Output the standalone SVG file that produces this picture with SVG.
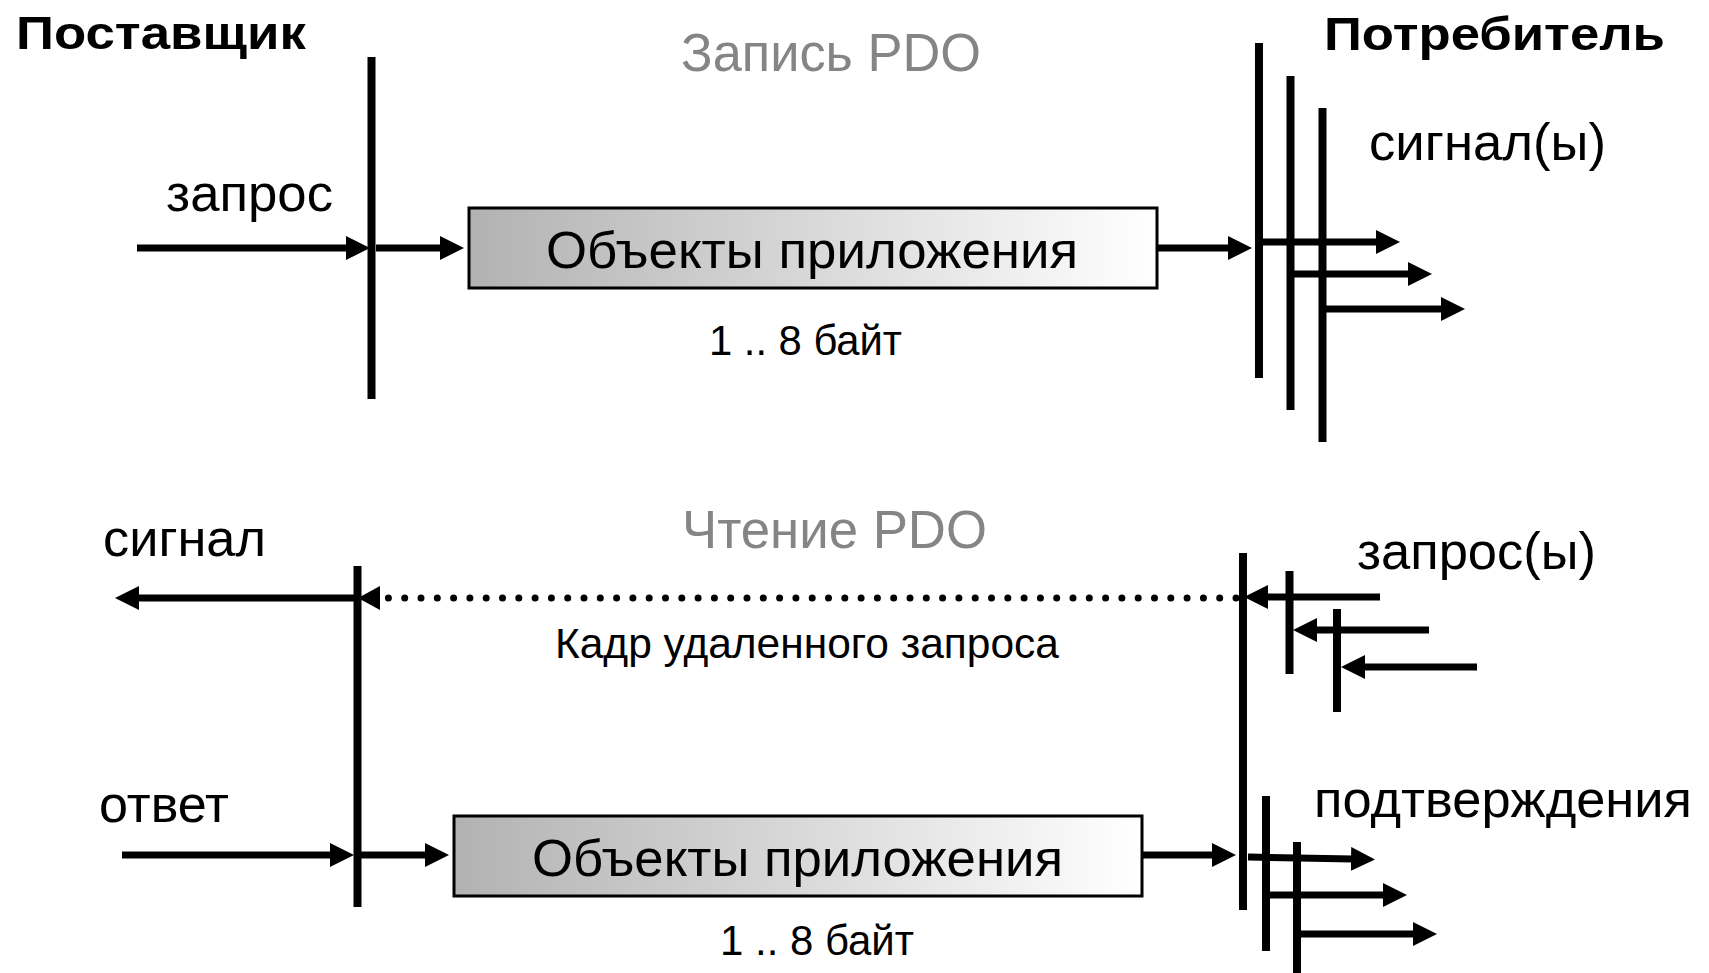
<svg xmlns="http://www.w3.org/2000/svg" width="1709" height="973" viewBox="0 0 1709 973">
<style>
text{font-family:"Liberation Sans",Arial,sans-serif;fill:#000}
.b{font-weight:bold;font-size:47px}
.t{font-size:53px;fill:#858585}
.l{font-size:52px}
.s{font-size:42px}
.bar{stroke:#000;stroke-width:8;fill:none}
.ar{stroke:#000;stroke-width:7;fill:none;marker-end:url(#ah)}
.dot{stroke:#000;stroke-width:7;stroke-linecap:round;stroke-dasharray:0 16.3;fill:none}
.box{stroke:#000;stroke-width:3;fill:url(#g)}
</style>
<defs>
<linearGradient id="g" x1="0" y1="0" x2="1" y2="0">
<stop offset="0" stop-color="#b2b2b2"/>
<stop offset="1" stop-color="#ffffff"/>
</linearGradient>
<marker id="ah" viewBox="0 0 24 24" refX="2" refY="12" markerWidth="24" markerHeight="24" markerUnits="userSpaceOnUse" orient="auto">
<path d="M0,0 L24,12 L0,24 Z" fill="#000"/>
</marker>
</defs>
<rect width="1709" height="973" fill="#fff"/>

<g id="titles">
<text class="b" x="16" y="49" textLength="290" lengthAdjust="spacingAndGlyphs">Поставщик</text>
<text class="b" x="1324" y="50" textLength="341" lengthAdjust="spacingAndGlyphs">Потребитель</text>
<text class="t" x="681" y="71" textLength="300" lengthAdjust="spacingAndGlyphs">Запись PDO</text>
<text class="t" x="682" y="548" textLength="305" lengthAdjust="spacingAndGlyphs">Чтение PDO</text>
</g>

<g id="supplier-write">
<line class="bar" x1="371.5" y1="57" x2="371.5" y2="399"/>
<text class="l" x="166" y="211" textLength="167" lengthAdjust="spacingAndGlyphs">запрос</text>
</g>

<g id="box-write">
<rect class="box" x="469" y="208" width="688" height="80"/>
<text class="l" x="546" y="268" textLength="532" lengthAdjust="spacingAndGlyphs">Объекты приложения</text>
<text class="s" x="709" y="355" textLength="193" lengthAdjust="spacingAndGlyphs">1 .. 8 байт</text>
</g>

<g id="consumer-write">
<line class="bar" x1="1259" y1="43" x2="1259" y2="378"/>
<line class="bar" x1="1290.5" y1="76" x2="1290.5" y2="410"/>
<line class="bar" x1="1322.5" y1="108" x2="1322.5" y2="442"/>
<text class="l" x="1369" y="160" textLength="237" lengthAdjust="spacingAndGlyphs">сигнал(ы)</text>
</g>

<g id="supplier-read">
<line class="bar" x1="357.5" y1="566" x2="357.5" y2="907"/>
<text class="l" x="103" y="556" textLength="163" lengthAdjust="spacingAndGlyphs">сигнал</text>
<text class="l" x="99" y="822" textLength="130" lengthAdjust="spacingAndGlyphs">ответ</text>
</g>

<g id="box-read">
<rect class="box" x="454" y="816" width="688" height="80"/>
<text class="l" x="532" y="876" textLength="531" lengthAdjust="spacingAndGlyphs">Объекты приложения</text>
<text class="s" x="720" y="955" textLength="194" lengthAdjust="spacingAndGlyphs">1 .. 8 байт</text>
<text class="s" x="555" y="658" textLength="504" lengthAdjust="spacingAndGlyphs">Кадр удаленного запроса</text>
</g>

<g id="consumer-read">
<line class="bar" x1="1243" y1="553" x2="1243" y2="910"/>
<line class="bar" x1="1289.5" y1="571" x2="1289.5" y2="674"/>
<line class="bar" x1="1337" y1="609" x2="1337" y2="712"/>
<line class="bar" x1="1266" y1="796" x2="1266" y2="951"/>
<line class="bar" x1="1297" y1="842" x2="1297" y2="973"/>
<text class="l" x="1357" y="569" textLength="239" lengthAdjust="spacingAndGlyphs">запрос(ы)</text>
<text class="l" x="1314" y="817" textLength="378" lengthAdjust="spacingAndGlyphs">подтверждения</text>
</g>

<g id="connectors">
<line class="ar" x1="137" y1="248" x2="348" y2="248"/>
<line class="ar" x1="376" y1="248" x2="442" y2="248"/>
<line class="ar" x1="1158" y1="248" x2="1230" y2="248"/>
<line class="ar" x1="1263" y1="242" x2="1378" y2="242"/>
<line class="ar" x1="1294" y1="274" x2="1410" y2="274"/>
<line class="ar" x1="1326" y1="309" x2="1443" y2="309"/>

<line class="ar" x1="357" y1="598" x2="137" y2="598"/>
<line class="dot" x1="1236" y1="598" x2="382" y2="598"/>
<path d="M358,598 L380,586 L380,610 Z" fill="#000"/>
<line class="ar" x1="1380" y1="597" x2="1266" y2="597"/>
<line class="ar" x1="1429" y1="630" x2="1315" y2="630"/>
<line class="ar" x1="1477" y1="667" x2="1363" y2="667"/>

<line class="ar" x1="122" y1="855" x2="332" y2="855"/>
<line class="ar" x1="361" y1="855" x2="427" y2="855"/>
<line class="ar" x1="1142" y1="855" x2="1214" y2="855"/>
<line class="ar" x1="1248" y1="857" x2="1353" y2="859"/>
<line class="ar" x1="1270" y1="895" x2="1385" y2="895"/>
<line class="ar" x1="1301" y1="934" x2="1415" y2="934"/>
</g>
</svg>
